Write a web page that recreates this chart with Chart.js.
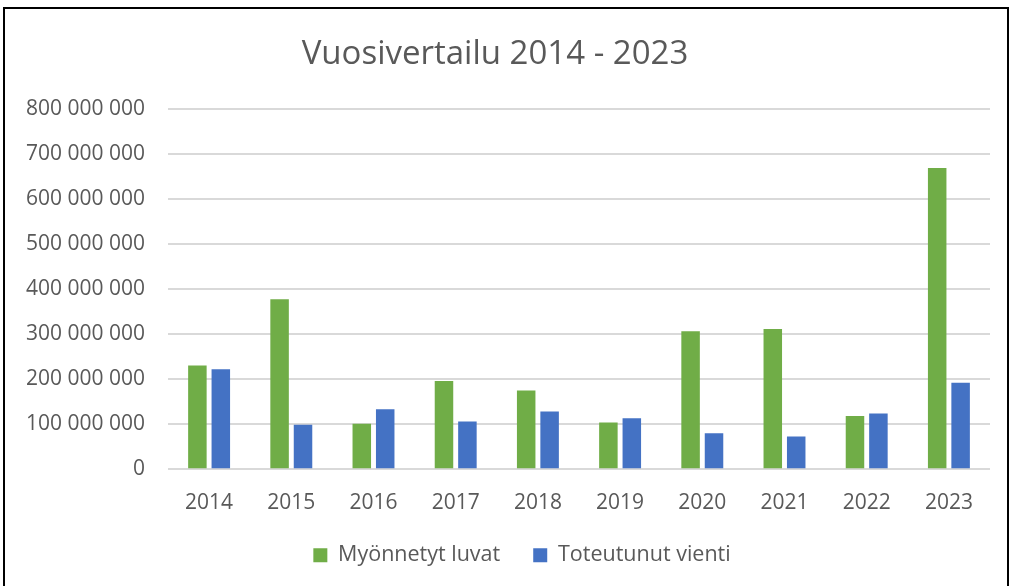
<!DOCTYPE html>
<html>
<head>
<meta charset="utf-8">
<script src="https://cdn.jsdelivr.net/npm/chart.js@4"></script>
<style>
  html, body { margin: 0; padding: 0; background: #fff; }
  body { width: 1011px; height: 586px; position: relative; overflow: hidden; }
  #frame { position: absolute; left: 3px; top: 7px; width: 1002px; height: 600px; border: 2px solid #000; }
  #wrap { position: absolute; left: 0; top: 0; width: 1011px; height: 586px; }
</style>
</head>
<body>
<div id="frame"></div>
<div id="wrap"><canvas id="chart" width="1011" height="586"></canvas></div>
<script>
// data
const years = ['2014', '2015', '2016', '2017', '2018', '2019', '2020', '2021', '2022', '2023'];
const myonnetytLuvat = [230e6, 377e6, 101e6, 196e6, 175e6, 104e6, 306e6, 311e6, 118e6, 668e6];
const toteutunutVienti = [222e6, 99e6, 133e6, 106e6, 128e6, 113e6, 80e6, 73e6, 124e6, 192e6];
const seriesNames = ['Myönnetyt luvat', 'Toteutunut vienti'];

const FONT = '"Open Sans", "Liberation Sans", sans-serif';
const TEXT = '#595959';

// Finnish style thousands separator: 800 000 000
function fmt(v) {
  return String(Math.round(v)).replace(/\B(?=(\d{3})+(?!\d))/g, ' ');
}

// the legend in the reference sits a bit right of the canvas centre
const shiftLegend = {
  id: 'shiftLegend',
  afterLayout(chart) {
    const lg = chart.legend;
    if (!lg) return;
    lg.left += 27;
    lg.right += 27;
  }
};

new Chart(document.getElementById('chart'), {
  type: 'bar',
  data: {
    labels: years,
    datasets: [
      { label: seriesNames[0], data: myonnetytLuvat, backgroundColor: '#70AD47' },
      { label: seriesNames[1], data: toteutunutVienti, backgroundColor: '#4472C4' }
    ]
  },
  plugins: [shiftLegend],
  options: {
    responsive: false,
    animation: false,
    layout: { padding: { left: 0, right: 21, top: 35, bottom: 10 } },
    datasets: { bar: { categoryPercentage: 0.57, barPercentage: 0.79 } },
    plugins: {
      title: {
        display: true,
        text: 'Vuosivertailu 2014 - 2023',
        color: TEXT,
        font: { family: FONT, size: 33, weight: 'normal' },
        padding: { top: 0, bottom: 34 }
      },
      legend: {
        position: 'bottom',
        labels: {
          color: TEXT,
          font: { family: FONT, size: 21.5 },
          boxWidth: 14, boxHeight: 14,
          padding: 33
        }
      },
      tooltip: { enabled: false }
    },
    scales: {
      x: {
        grid: { display: false },
        border: { display: false },
        afterFit: (s) => { s.height -= 17; },
        ticks: { color: TEXT, font: { family: FONT, size: 21 }, padding: 13 }
      },
      y: {
        min: 0, max: 800e6,
        afterFit: (s) => { s.width = 168; },
        grid: { color: '#d9d9d9', lineWidth: 2, drawTicks: false },
        border: { display: false },
        ticks: { stepSize: 100e6, color: TEXT, font: { family: FONT, size: 21 }, padding: 23, callback: (v) => fmt(v) }
      }
    }
  }
});
</script>
</body>
</html>
